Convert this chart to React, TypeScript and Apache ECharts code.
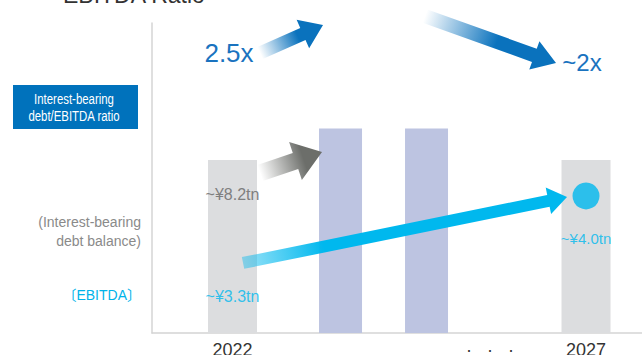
import React, { useEffect, useRef } from "react";
import * as echarts from "echarts";

// ---- data ----
const yearLabels = ["2022", "·   ·   ·", "2027"];
const yearX = [6.57, 27.6, 35.43];

const debtX = [6.57, 35.43];
const debtValues = [8.2, 8.2];
const debtLabels = ["~¥8.2tn", ""];

const midX = [15.39, 22.41];
const midValues = [9.7, 9.7];

const ebitdaX = [6.57, 35.43];
const ebitdaLevel = [3.3, 6.5];
const ebitdaLabels = ["~¥3.3tn", "~¥4.0tn"];

const ratioLabels = ["2.5x", "~2x"];

// arrows in data coordinates: [x1, y1, x2, y2]
const arrowCoords = [
  [8.82, 13.28, 13.96, 14.6],
  [22.29, 15.03, 32.98, 12.8],
  [8.82, 7.59, 13.88, 8.58],
  [7.43, 3.32, 33.88, 6.45],
];

const FONT = "'Liberation Sans', Arial, Helvetica, sans-serif";
const BLUE = "#0a72bd";
const CYAN = "#00b8ee";

const arrowStyles = [
  { shaft: 13, headLen: 22, headW: 31, stops: [[0, "rgba(10,114,189,0)"], [0.6, BLUE], [1, BLUE]] },
  { shaft: 14, headLen: 23, headW: 30, stops: [[0, "rgba(10,114,189,0)"], [0.55, BLUE], [1, BLUE]] },
  { shaft: 17, headLen: 28, headW: 40, stops: [[0, "rgba(108,110,106,0)"], [0.7, "#6c6e6a"], [1, "#6c6e6a"]] },
  { shaft: 12, headLen: 19, headW: 27, stops: [[0, "rgba(0,184,238,0.4)"], [0.25, CYAN], [1, CYAN]] },
];

export default function App() {
  const ref = useRef<HTMLDivElement>(null);
  useEffect(() => {
    if (!ref.current) return;
    const chart = echarts.init(ref.current, null, { renderer: "svg" });

    const renderArrow = (params: any, api: any) => {
      const p1 = api.coord([api.value(0), api.value(1)]);
      const p2 = api.coord([api.value(2), api.value(3)]);
      const st = arrowStyles[params.dataIndex];
      const dx = p2[0] - p1[0];
      const dy = p2[1] - p1[1];
      const len = Math.sqrt(dx * dx + dy * dy);
      const ux = dx / len, uy = dy / len;
      const nx = -uy, ny = ux;
      const bx = p2[0] - ux * st.headLen, by = p2[1] - uy * st.headLen;
      const w = st.shaft / 2, h = st.headW / 2;
      const points = [
        [p1[0] + nx * w, p1[1] + ny * w],
        [bx + nx * w, by + ny * w],
        [bx + nx * h, by + ny * h],
        [p2[0], p2[1]],
        [bx - nx * h, by - ny * h],
        [bx - nx * w, by - ny * w],
        [p1[0] - nx * w, p1[1] - ny * w],
      ];
      return {
        type: "polygon",
        shape: { points },
        style: {
          fill: new echarts.graphic.LinearGradient(
            p1[0], p1[1], p2[0], p2[1],
            st.stops.map(([offset, color]) => ({ offset: offset as number, color: color as string })),
            true
          ),
        },
      };
    };

    chart.setOption({
      animation: false,
      grid: { left: 152, right: 0, top: 23, bottom: 22, containLabel: false, outerBoundsMode: "none" },
      xAxis: [
        {
          type: "value",
          min: 0,
          max: 40,
          axisLine: { show: true, lineStyle: { color: "#d4d4d4", width: 1.5 } },
          axisTick: { show: false },
          splitLine: { show: false },
          axisLabel: {
            customValues: yearX,
            formatter: (v: number) => {
              const i = yearX.findIndex((x) => Math.abs(x - v) < 0.01);
              return i < 0 ? "" : yearLabels[i];
            },
            fontSize: 18,
            color: "#333",
            margin: 8,
            fontFamily: FONT,
          },
        },
        { type: "value", min: 0, max: 40, show: false },
      ],
      yAxis: {
        type: "value",
        min: 0,
        max: 14.7,
        axisLine: { show: true, lineStyle: { color: "#d4d4d4", width: 1.5 } },
        axisTick: { show: false },
        axisLabel: { show: false },
        splitLine: { show: false },
      },
      series: [
        {
          type: "bar",
          xAxisIndex: 0,
          barWidth: 49,
          itemStyle: { color: "#dcdddf" },
          data: debtX.map((x, i) => ({
            value: [x, debtValues[i]],
            label: {
              show: debtLabels[i] !== "",
              position: "insideTop",
              distance: 26,
              formatter: debtLabels[i],
              color: "#7f7f7f",
              fontSize: 16,
              fontFamily: FONT,
            },
          })),
        },
        {
          type: "bar",
          xAxisIndex: 1,
          barWidth: 43,
          itemStyle: { color: "#bdc4e1" },
          data: midX.map((x, i) => [x, midValues[i]]),
        },
        {
          type: "custom",
          xAxisIndex: 0,
          clip: false,
          z: 5,
          renderItem: renderArrow,
          encode: { x: [0, 2], y: [1, 3] },
          data: arrowCoords,
        },
        {
          type: "scatter",
          xAxisIndex: 0,
          z: 6,
          data: ebitdaX.map((x, i) => ({
            value: [x, ebitdaLevel[i]],
            symbolSize: i === 0 ? 1 : 27,
            itemStyle: { color: i === 0 ? "rgba(0,0,0,0)" : CYAN },
            label: {
              show: true,
              position: "bottom",
              distance: i === 0 ? 25 : 22,
              formatter: ebitdaLabels[i],
              color: CYAN,
              fontSize: i === 0 ? 16 : 15,
              fontFamily: FONT,
            },
          })),
        },
      ],
      graphic: [
        {
          type: "text",
          left: 63,
          top: -17,
          style: { text: "EBITDA Ratio", fontSize: 23, fill: "#333", fontFamily: FONT },
        },
        {
          type: "text",
          x: 229,
          y: 53,
          style: { text: ratioLabels[0], fontSize: 26, fill: "#1a73bf", fontFamily: FONT, align: "center", verticalAlign: "middle" },
        },
        {
          type: "text",
          x: 582,
          y: 62,
          style: { text: ratioLabels[1], fontSize: 24, fill: "#1a73bf", fontFamily: FONT, align: "center", verticalAlign: "middle" },
        },
        {
          type: "rect",
          shape: { x: 13, y: 85, width: 125, height: 44 },
          style: { fill: "#0072bc" },
        },
        {
          type: "text",
          x: 74,
          y: 107,
          scaleX: 0.76,
          style: {
            text: "Interest-bearing\ndebt/EBITDA ratio",
            fontSize: 15,
            lineHeight: 17,
            fill: "#fff",
            fontFamily: FONT,
            align: "center",
            verticalAlign: "middle",
          },
        },
        {
          type: "text",
          x: 141,
          y: 231,
          style: {
            text: "(Interest-bearing\ndebt balance)",
            fontSize: 14,
            lineHeight: 19,
            fill: "#8a8a8a",
            fontFamily: FONT,
            align: "right",
            verticalAlign: "middle",
          },
        },
        {
          type: "text",
          x: 141,
          y: 295,
          style: {
            text: "〔EBITDA〕",
            fontSize: 14,
            fill: "#00b3ea",
            fontFamily: "'Liberation Sans', 'Noto Sans CJK JP', sans-serif",
            align: "right",
            verticalAlign: "middle",
          },
        },
      ],
    });
    return () => chart.dispose();
  }, []);
  return (
    <div
      ref={ref}
      style={{ position: "absolute", left: 0, top: 0, width: 642, height: 355 }}
    />
  );
}
